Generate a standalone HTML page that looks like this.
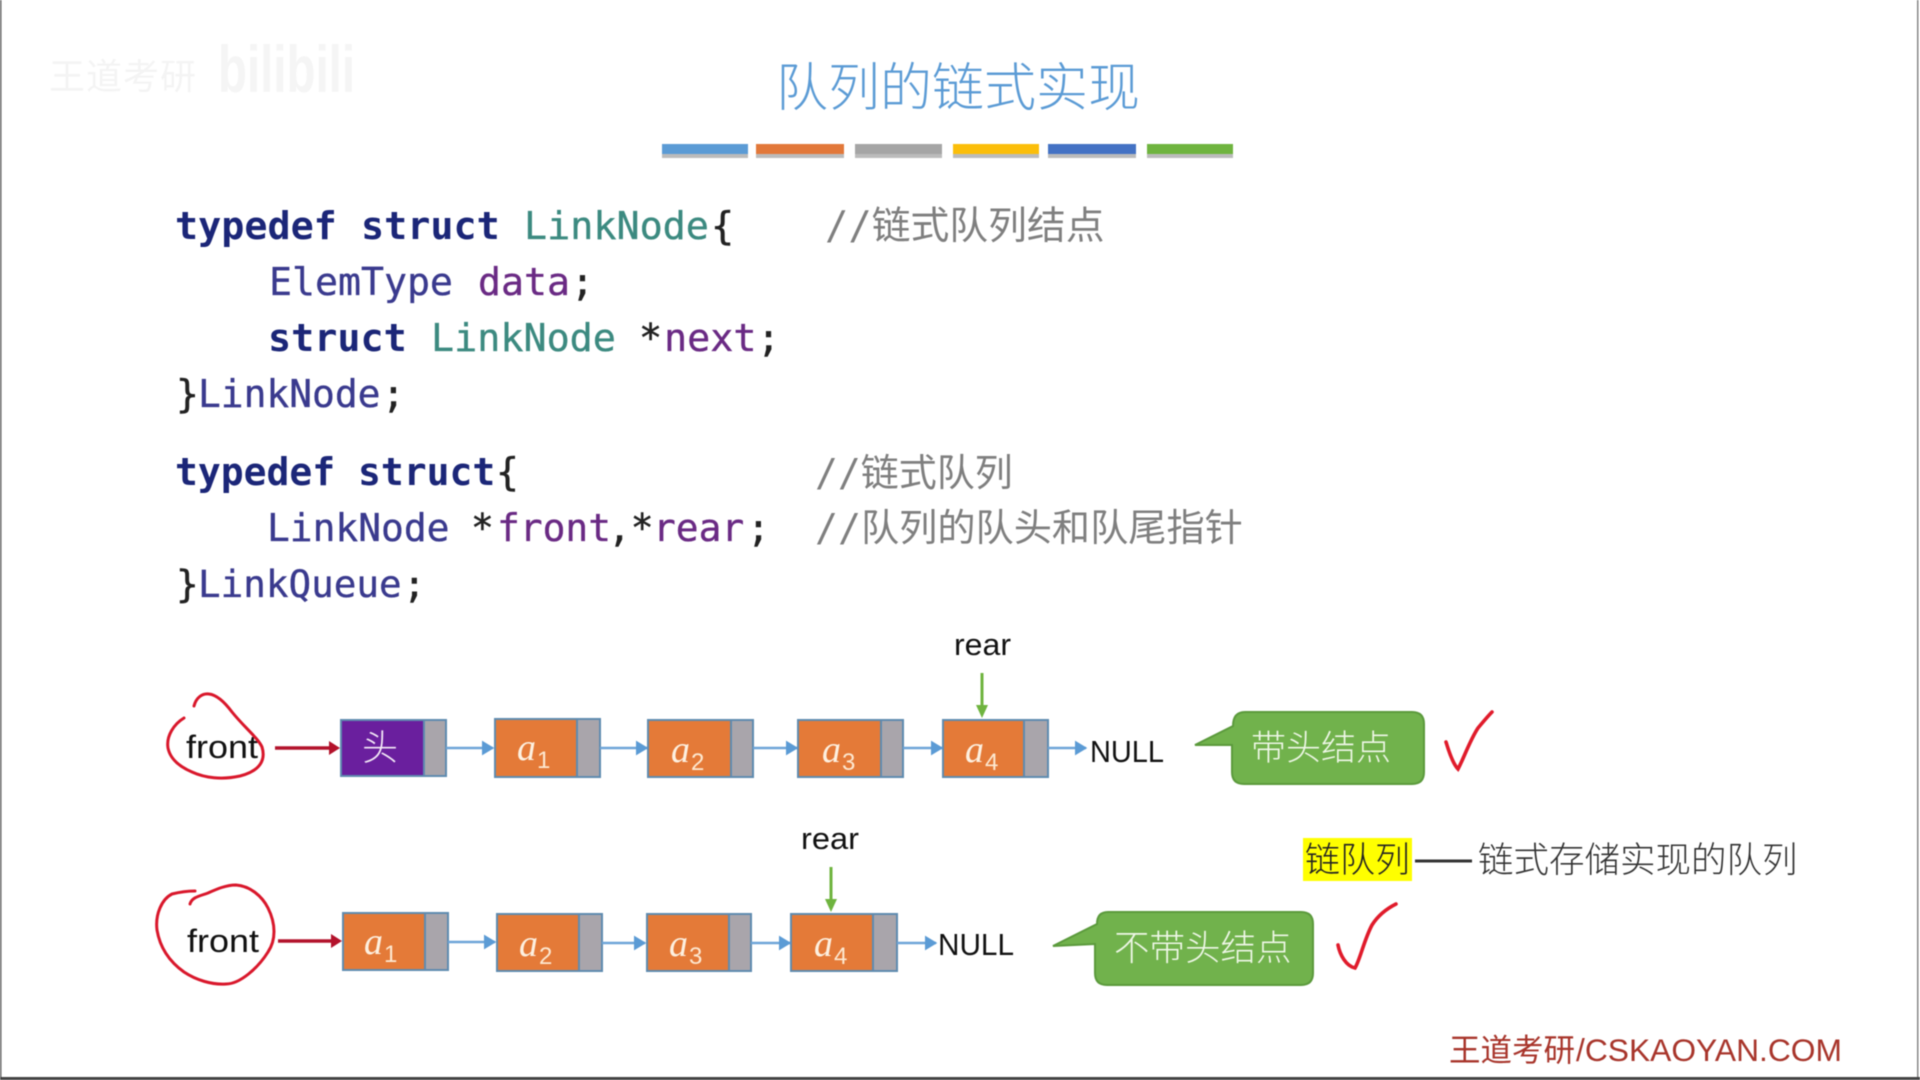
<!DOCTYPE html>
<html lang="zh">
<head>
<meta charset="utf-8">
<title>队列的链式实现</title>
<style>
html,body{margin:0;padding:0;background:#fff;width:1920px;height:1080px;overflow:hidden}
svg{display:block;filter:blur(.55px)}
.m{font-family:"DejaVu Sans Mono","Noto Sans CJK SC",monospace}
.k{fill:#1b2678;font-weight:bold}
.t{fill:#3c8a80;stroke:#3c8a80;stroke-width:.35}
.c{fill:#3a3a8e;stroke:#3a3a8e;stroke-width:.35}
.v{fill:#6a2a84;stroke:#6a2a84;stroke-width:.35}
.p{fill:#222;stroke:#222;stroke-width:.5}
.g{fill:#7f7f7f}
.s{font-family:"Liberation Sans","Noto Sans CJK SC",sans-serif}
.cn{font-family:"Liberation Sans","Noto Sans CJK SC",sans-serif;font-weight:300}
.a{font-family:"Liberation Serif",serif;font-style:italic;font-size:38px;fill:#fdf0e0}
.n{font-family:"Liberation Sans",sans-serif;font-size:24px;fill:#fde8d0;font-weight:normal}
.bl{fill:none;stroke:#6ea5d8;stroke-width:2.5}
.box{stroke:#5f8bb0;stroke-width:2}
</style>
</head>
<body>
<svg width="1920" height="1080" viewBox="0 0 1920 1080" xmlns="http://www.w3.org/2000/svg">
<defs>
<marker id="ab" markerWidth="5" markerHeight="6" refX="4.5" refY="3" orient="auto"><path d="M0 0L5 3L0 6Z" fill="#5b9bd5"/></marker>
</defs>
<rect width="1920" height="1080" fill="#fff"/>
<rect x="0" y="0" width="1.5" height="1080" fill="#666"/>
<rect x="1917" y="0" width="1.5" height="1080" fill="#888"/>
<rect x="0" y="1077" width="1920" height="3" fill="#444"/>

<!-- faint watermark -->
<text x="49" y="89" class="s" font-size="36" fill="#f4f4f4" textLength="147">王道考研</text>
<text x="218" y="92" class="s" font-size="66" font-weight="bold" fill="#f5f5f5" textLength="137" lengthAdjust="spacingAndGlyphs">bilibili</text>

<!-- title -->
<text x="776" y="106" class="cn" font-size="52" fill="#5b9bd5" font-weight="400">队列的链式实现</text>
<!-- bars -->
<g>
<rect x="662" y="150" width="86" height="8" fill="#bbb"/><rect x="756" y="150" width="88" height="8" fill="#bbb"/><rect x="855" y="150" width="87" height="8" fill="#bbb"/><rect x="953" y="150" width="86" height="8" fill="#bbb"/><rect x="1048" y="150" width="88" height="8" fill="#bbb"/><rect x="1147" y="150" width="86" height="8" fill="#bbb"/>
<rect x="662" y="144" width="86" height="10" fill="#5b9bd5"/>
<rect x="756" y="144" width="88" height="10" fill="#e2783a"/>
<rect x="855" y="144" width="87" height="10" fill="#a5a5a5"/>
<rect x="953" y="144" width="86" height="10" fill="#fbbe0a"/>
<rect x="1048" y="144" width="88" height="10" fill="#4472c4"/>
<rect x="1147" y="144" width="86" height="10" fill="#6fb43f"/>
</g>

<!-- code -->
<text class="m" y="239" font-size="38.4"><tspan x="175" class="k">typedef</tspan><tspan x="361" class="k">struct</tspan><tspan x="524" class="t">LinkNode</tspan><tspan x="711" class="p">{</tspan></text>
<text class="m g" y="239" font-size="38.8"><tspan x="825">//链式队列结点</tspan></text>
<text class="m" y="295" font-size="38.2"><tspan x="269" class="c">ElemType</tspan><tspan x="478" class="v">data</tspan><tspan x="571" class="p">;</tspan></text>
<text class="m" y="351" font-size="38.4"><tspan x="268" class="k">struct</tspan><tspan x="431" class="t">LinkNode</tspan><tspan x="639" class="p">*</tspan><tspan x="664" class="v">next</tspan><tspan x="757" class="p">;</tspan></text>
<text class="m" y="407" font-size="37.9"><tspan x="176" class="p">}</tspan><tspan x="198" class="c">LinkNode</tspan><tspan x="382" class="p">;</tspan></text>

<text class="m" y="485" font-size="38"><tspan x="175" class="k">typedef</tspan><tspan x="358" class="k">struct</tspan><tspan x="496" class="p">{</tspan></text>
<text class="m g" y="486" font-size="38"><tspan x="815">//链式队列</tspan></text>
<text class="m" y="541" font-size="37.9"><tspan x="267" class="c">LinkNode</tspan><tspan x="471" class="p">*</tspan><tspan x="497" class="v">front</tspan><tspan x="608" class="p">,*</tspan><tspan x="653" class="v">rear</tspan><tspan x="747" class="p">;</tspan></text>
<text class="m g" y="541" font-size="38.2"><tspan x="815">//队列的队头和队尾指针</tspan></text>
<text class="m" y="597" font-size="37.6"><tspan x="176" class="p">}</tspan><tspan x="198" class="c">LinkQueue</tspan><tspan x="403" class="p">;</tspan></text>

<!-- row 1 -->
<g class="box">
<rect x="341" y="720" width="83" height="56" fill="#6a1f9e"/><rect x="424" y="720" width="22" height="56" fill="#a9a5ab"/>
<rect x="495" y="719" width="82" height="58" fill="#e47a38"/><rect x="577" y="719" width="23" height="58" fill="#a9a5ab"/>
<rect x="648" y="720" width="83" height="57" fill="#e47a38"/><rect x="731" y="720" width="22" height="57" fill="#a9a5ab"/>
<rect x="798" y="720" width="83" height="57" fill="#e47a38"/><rect x="881" y="720" width="22" height="57" fill="#a9a5ab"/>
<rect x="943" y="720" width="81" height="57" fill="#e47a38"/><rect x="1024" y="720" width="24" height="57" fill="#a9a5ab"/>
</g>
<text x="380" y="760" text-anchor="middle" class="cn" font-size="36" fill="#f3e9f7">头</text>
<text x="517" y="760" class="a">a</text><text x="537" y="768" class="n">1</text>
<text x="671" y="762" class="a">a</text><text x="691" y="770" class="n">2</text>
<text x="822" y="762" class="a">a</text><text x="842" y="770" class="n">3</text>
<text x="965" y="762" class="a">a</text><text x="985" y="770" class="n">4</text>

<path class="bl" marker-end="url(#ab)" d="M446 748H493"/>
<path class="bl" marker-end="url(#ab)" d="M600 748H647"/>
<path class="bl" marker-end="url(#ab)" d="M753 748H797"/>
<path class="bl" marker-end="url(#ab)" d="M903 748H942"/>
<path class="bl" marker-end="url(#ab)" d="M1048 748H1086"/>

<text x="1090" y="762" class="s" font-size="31" fill="#111" textLength="74" lengthAdjust="spacingAndGlyphs">NULL</text>
<text x="954" y="655" class="s" font-size="31" fill="#111" textLength="57" lengthAdjust="spacingAndGlyphs">rear</text>
<path d="M982 673V706" stroke="#6fb43f" stroke-width="3" fill="none"/><path d="M976 705L982 718L988 705Z" fill="#6fb43f"/>

<text x="186" y="758" class="s" font-size="32" fill="#111" textLength="72" lengthAdjust="spacingAndGlyphs">front</text>
<path d="M194 706C196 698 202 693 209 694C218 695 226 704 232 712C244 727 258 738 262 747C266 760 260 771 240 776C222 780 205 778 192 772C178 766 170 758 168 748C166 736 174 724 184 718" fill="none" stroke="#d9172b" stroke-width="3" stroke-linecap="round"/>
<path d="M275 748H330" stroke="#b3122b" stroke-width="3.5"/><path d="M329 741L340 748L329 755Z" fill="#b3122b"/>

<!-- callout 1 -->
<path d="M1245 712H1412Q1424 712 1424 724V772Q1424 784 1412 784H1244Q1232 784 1232 772V745L1195 745L1233 726Q1233 712 1245 712Z" fill="#71b24c" stroke="#5b9a3c" stroke-width="2"/>
<text x="1251" y="760" class="cn" font-size="35" fill="#eef7e6">带头结点</text>
<path d="M1446 742C1449 752 1453 764 1458 769C1463 760 1470 740 1478 728C1483 722 1488 716 1492 712" fill="none" stroke="#e01b2b" stroke-width="3.6" stroke-linecap="round"/>

<!-- definition -->
<rect x="1303" y="838" width="109" height="43" fill="#ffff00"/>
<text x="1305" y="872" class="cn" font-size="35" fill="#222">链队列</text>
<path d="M1415 861H1472" stroke="#333" stroke-width="3"/>
<text x="1478" y="872" class="cn" font-size="35.5" fill="#333">链式存储实现的队列</text>

<!-- row 2 -->
<g class="box">
<rect x="343" y="913" width="82" height="57" fill="#e47a38"/><rect x="425" y="913" width="23" height="57" fill="#a9a5ab"/>
<rect x="497" y="914" width="82" height="57" fill="#e47a38"/><rect x="579" y="914" width="23" height="57" fill="#a9a5ab"/>
<rect x="647" y="914" width="82" height="57" fill="#e47a38"/><rect x="729" y="914" width="22" height="57" fill="#a9a5ab"/>
<rect x="791" y="914" width="82" height="57" fill="#e47a38"/><rect x="873" y="914" width="24" height="57" fill="#a9a5ab"/>
</g>
<text x="364" y="954" class="a">a</text><text x="384" y="962" class="n">1</text>
<text x="519" y="956" class="a">a</text><text x="539" y="964" class="n">2</text>
<text x="669" y="956" class="a">a</text><text x="689" y="964" class="n">3</text>
<text x="814" y="956" class="a">a</text><text x="834" y="964" class="n">4</text>

<path class="bl" marker-end="url(#ab)" d="M448 942H495"/>
<path class="bl" marker-end="url(#ab)" d="M602 943H645"/>
<path class="bl" marker-end="url(#ab)" d="M751 943H790"/>
<path class="bl" marker-end="url(#ab)" d="M897 943H936"/>

<text x="938" y="955" class="s" font-size="31" fill="#111" textLength="76" lengthAdjust="spacingAndGlyphs">NULL</text>
<text x="801" y="849" class="s" font-size="31" fill="#111" textLength="58" lengthAdjust="spacingAndGlyphs">rear</text>
<path d="M831 867V900" stroke="#6fb43f" stroke-width="3" fill="none"/><path d="M825 899L831 912L837 899Z" fill="#6fb43f"/>

<text x="187" y="952" class="s" font-size="32" fill="#111" textLength="72" lengthAdjust="spacingAndGlyphs">front</text>
<path d="M190 904C192 897 200 896 208 893C217 889 226 885 236 885C250 886 262 896 268 908C276 924 276 940 268 952C258 968 240 984 226 984C212 985 196 980 184 972C170 962 160 948 157 930C155 914 162 899 172 894C180 892 188 891 195 891" fill="none" stroke="#d9172b" stroke-width="3" stroke-linecap="round"/>
<path d="M278 941H332" stroke="#b3122b" stroke-width="3.5"/><path d="M331 934L342 941L331 948Z" fill="#b3122b"/>

<!-- callout 2 -->
<path d="M1108 912H1301Q1313 912 1313 924V973Q1313 985 1301 985H1107Q1095 985 1095 973V944L1053 946L1097 924Q1097 912 1108 912Z" fill="#71b24c" stroke="#5b9a3c" stroke-width="2"/>
<text x="1114" y="960" class="cn" font-size="35.5" fill="#eef7e6">不带头结点</text>
<path d="M1338 945C1340 955 1346 966 1355 968C1360 960 1364 940 1372 925C1379 914 1388 908 1396 904" fill="none" stroke="#e01b2b" stroke-width="3.6" stroke-linecap="round"/>

<!-- footer -->
<text x="1449" y="1061" class="s" font-size="31.5" fill="#a8352b"><tspan>王道考研</tspan><tspan x="1576" textLength="266" lengthAdjust="spacingAndGlyphs">/CSKAOYAN.COM</tspan></text>
</svg>
</body>
</html>
